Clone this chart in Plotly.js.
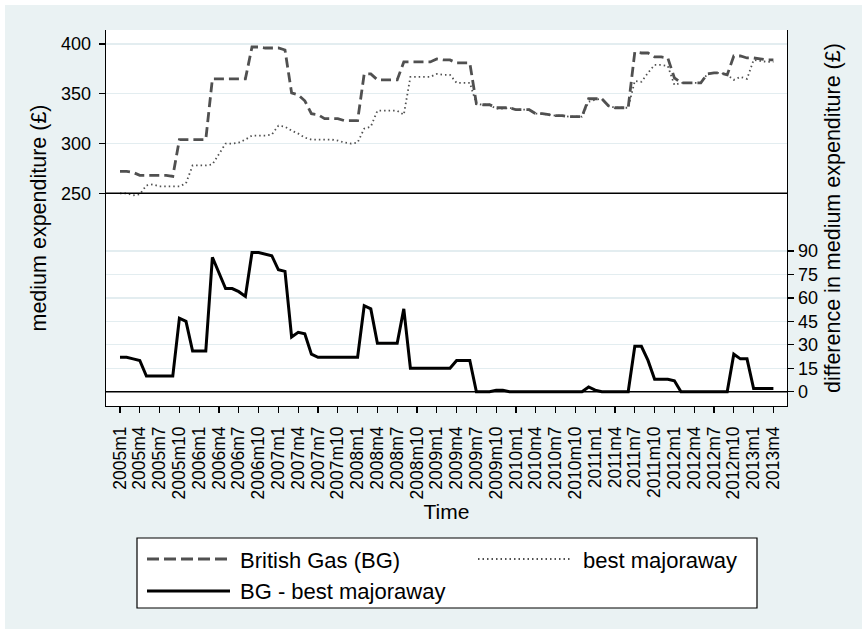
<!DOCTYPE html>
<html>
<head>
<meta charset="utf-8">
<script src="https://cdn.plot.ly/plotly-3.0.1.min.js"></script>
<style>
  html, body { margin: 0; padding: 0; background: #ffffff; }
  #chart { position: absolute; left: 5px; top: 5px; width: 857px; height: 624px; }
</style>
</head>
<body>
<div id="chart"></div>
<script>
// ---- Data (monthly, 2005m1 .. 2013m4) ----
const startYear = 2005;
const nObs = 100;

const tickLabels = [
  "2005m1","2005m4","2005m7","2005m10","2006m1","2006m4","2006m7","2006m10",
  "2007m1","2007m4","2007m7","2007m10","2008m1","2008m4","2008m7","2008m10",
  "2009m1","2009m4","2009m7","2009m10","2010m1","2010m4","2010m7","2010m10",
  "2011m1","2011m4","2011m7","2011m10","2012m1","2012m4","2012m7","2012m10",
  "2013m1","2013m4"
];

// British Gas (BG) medium expenditure (£)
const bgValues = [
  272,272,271,268,268,268,268,268,267,304,
  304,304,304,304,365,365,365,365,365,365,
  397,397,396,396,396,394,351,349,343,330,
  329,325,325,325,323,323,323,370,370,364,
  364,364,364,382,382,382,382,382,385,384,
  384,381,381,381,340,339,339,336,336,336,
  334,334,334,330,330,329,328,328,327,327,
  327,345,345,345,338,336,336,336,392,391,
  391,387,387,386,366,361,361,361,361,370,
  371,371,369,388,388,386,386,385,384,384
];

// best majoraway medium expenditure (£)
const bestValues = [
  250,250,248,249,258,259,257,257,257,257,
  260,278,278,278,279,289,300,300,301,304,
  308,308,308,309,318,317,313,310,306,304,
  304,304,304,303,301,300,301,315,317,333,
  333,333,333,329,367,367,367,367,370,369,
  369,361,361,361,340,339,339,335,335,336,
  334,334,334,330,330,329,328,328,327,327,
  327,342,344,345,338,336,336,336,363,362,
  371,379,379,378,359,361,361,361,361,370,
  371,371,369,364,367,365,384,383,382,382
];

// BG - best majoraway (difference, £)
const diffValues = [
  22,22,21,20,10,10,10,10,10,47,
  45,26,26,26,86,76,66,66,64,61,
  89,89,88,87,78,77,35,38,37,24,
  22,22,22,22,22,22,22,55,53,31,
  31,31,31,53,15,15,15,15,15,15,
  15,20,20,20,0,0,0,1,1,0,
  0,0,0,0,0,0,0,0,0,0,
  0,3,1,0,0,0,0,0,29,29,
  20,8,8,8,7,0,0,0,0,0,
  0,0,0,24,21,21,2,2,2,2
];

const leftTicks = [250, 300, 350, 400];
const rightTicks = [0, 15, 30, 45, 60, 75, 90];

const seriesNames = ["British Gas (BG)", "best majoraway", "BG - best majoraway"];

// month labels for the time axis
const months = [];
for (let i = 0; i < nObs; i++) {
  months.push((startYear + Math.floor(i / 12)) + "m" + ((i % 12) + 1));
}

// ---- Styling / layout ----
const FONT = "Liberation Sans, Arial, Helvetica, sans-serif";
const BG_COL = "#eaf2f3";
const GRID_COL = "#e3edf0";

// page-pixel -> paper helpers (plot area spans page x 106..787, y 30..406)
const PL = 106, PR = 787, PT = 30, PB = 406;
const px = x => (x - PL) / (PR - PL);
const py = y => (PB - y) / (PB - PT);

const traces = [
  { x: months, y: bgValues, name: seriesNames[0], type: "scatter", mode: "lines",
    yaxis: "y", line: { color: "#505050", width: 2.8, dash: "10px,5px" }, hoverinfo: "x+y" },
  { x: months, y: bestValues, name: seriesNames[1], type: "scatter", mode: "lines",
    yaxis: "y", line: { color: "#505050", width: 1.8, dash: "1.5px,3px" }, hoverinfo: "x+y" },
  { x: months, y: diffValues, name: seriesNames[2], type: "scatter", mode: "lines",
    yaxis: "y2", line: { color: "#000000", width: 3 }, hoverinfo: "x+y" }
];

const shapes = [
  // reference lines at 250 (left scale) and 0 (right scale)
  { type: "line", xref: "paper", yref: "y", x0: 0, x1: 1, y0: 250, y1: 250,
    line: { color: "#000", width: 1.4 }, layer: "above" },
  { type: "line", xref: "paper", yref: "y2", x0: 0, x1: 1, y0: 0, y1: 0,
    line: { color: "#000", width: 1.4 }, layer: "above" },
  // legend box
  { type: "rect", xref: "paper", yref: "paper", x0: px(137), x1: px(757), y0: py(608), y1: py(538),
    line: { color: "#000", width: 1.2 }, fillcolor: "#ffffff", layer: "above" },
  // legend samples
  { type: "line", xref: "paper", yref: "paper", x0: px(147), x1: px(230), y0: py(559), y1: py(559),
    line: { color: "#505050", width: 3, dash: "12px,5px" }, layer: "above" },
  { type: "line", xref: "paper", yref: "paper", x0: px(478), x1: px(572), y0: py(559), y1: py(559),
    line: { color: "#505050", width: 1.8, dash: "1.5px,3px" }, layer: "above" },
  { type: "line", xref: "paper", yref: "paper", x0: px(147), x1: px(230), y0: py(591), y1: py(591),
    line: { color: "#000", width: 3 }, layer: "above" }
];

const legFont = { family: FONT, size: 22, color: "#000" };
const annotations = [
  { xref: "paper", yref: "paper", x: px(238), y: py(560), text: seriesNames[0], showarrow: false,
    xanchor: "left", yanchor: "middle", font: legFont },
  { xref: "paper", yref: "paper", x: px(581), y: py(560), text: seriesNames[1], showarrow: false,
    xanchor: "left", yanchor: "middle", font: legFont },
  { xref: "paper", yref: "paper", x: px(238), y: py(591), text: seriesNames[2], showarrow: false,
    xanchor: "left", yanchor: "middle", font: legFont }
];

const layout = {
  width: 857, height: 624,
  margin: { l: 101, r: 75, t: 25, b: 223, pad: 0 },
  paper_bgcolor: BG_COL,
  plot_bgcolor: "#ffffff",
  font: { family: FONT, size: 18, color: "#000" },
  showlegend: false,
  xaxis: {
    type: "category",
    range: [-2.12, 101.06],
    tickmode: "array", tickvals: tickLabels, ticktext: tickLabels,
    tickangle: -90,
    ticks: "outside", ticklen: 6, tickwidth: 1.2, tickcolor: "#000",
    ticklabelstandoff: 6,
    tickfont: { family: FONT, size: 17.5, color: "#000" },
    showline: true, linecolor: "#000", linewidth: 1.4,
    showgrid: false, zeroline: false,
    title: { text: "Time", font: { family: FONT, size: 21, color: "#000" }, standoff: 6 }
  },
  yaxis: {
    range: [36.3, 414.1],
    tickmode: "array", tickvals: leftTicks,
    ticks: "outside", ticklen: 6, tickwidth: 1.2, tickcolor: "#000",
    ticklabelstandoff: 4,
    tickfont: { family: FONT, size: 18, color: "#000" },
    showline: true, linecolor: "#000", linewidth: 1.4,
    showgrid: true, gridcolor: GRID_COL, gridwidth: 1.2,
    zeroline: false,
    title: { text: "medium expenditure (£)", font: { family: FONT, size: 21.5, color: "#000" }, standoff: 8 }
  },
  yaxis2: {
    overlaying: "y", side: "right",
    range: [-9.15, 231.4],
    tickmode: "array", tickvals: rightTicks,
    ticks: "outside", ticklen: 6, tickwidth: 1.2, tickcolor: "#000",
    tickfont: { family: FONT, size: 18, color: "#000" },
    showline: true, linecolor: "#000", linewidth: 1.4,
    showgrid: true, gridcolor: GRID_COL, gridwidth: 1.2,
    zeroline: false,
    title: { text: "difference in medium expenditure (£)", font: { family: FONT, size: 21.5, color: "#000" }, standoff: 8 }
  },
  shapes: shapes,
  annotations: annotations
};

Plotly.newPlot("chart", traces, layout, { displayModeBar: false, staticPlot: true });
</script>
</body>
</html>
